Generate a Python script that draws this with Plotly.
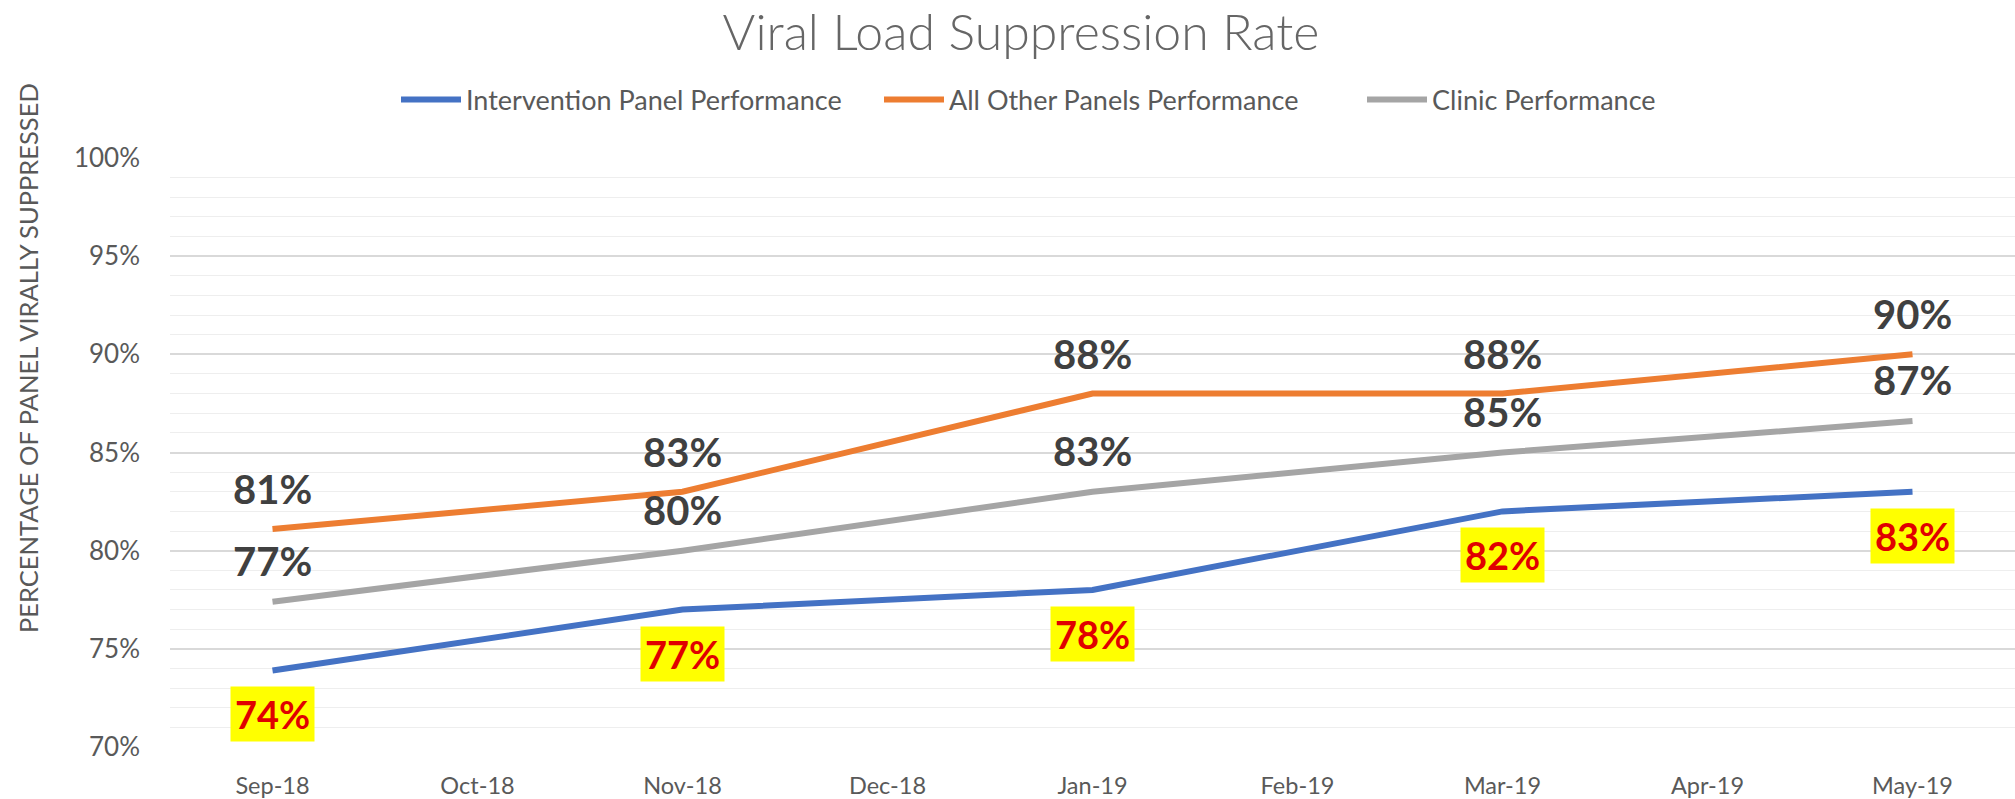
import plotly.graph_objects as go

months = ["Sep-18", "Oct-18", "Nov-18", "Dec-18", "Jan-19", "Feb-19", "Mar-19", "Apr-19", "May-19"]
intervention = [0.739, None, 0.770, None, 0.780, None, 0.820, None, 0.830]
other_panels = [0.811, None, 0.830, None, 0.880, None, 0.880, None, 0.900]
clinic = [0.774, None, 0.800, None, 0.830, None, 0.850, None, 0.866]

series_names = ["Intervention Panel Performance", "All Other Panels Performance", "Clinic Performance"]
colors = ["#4472C4", "#ED7D31", "#A5A5A5"]

W, H = 2015, 799
L, R, T, B = 170, 0, 158, 52
FONT = "Lato, 'Open Sans', sans-serif"

fig = go.Figure()
for name, vals, col in zip(series_names, [intervention, other_panels, clinic], colors):
    fig.add_trace(go.Scatter(
        x=months, y=vals, name=name, mode="lines", connectgaps=True,
        line=dict(color=col, width=6), hoverinfo="skip",
    ))

annotations = []
for vals, shift, kind in [(other_panels, 40, "dark"), (clinic, 41, "dark"), (intervention, -44, "red")]:
    for m, v in zip(months, vals):
        if v is None:
            continue
        txt = f"{int(v * 100 + 0.5)}%"
        if kind == "dark":
            annotations.append(dict(
                x=m, y=v, xref="x", yref="y", text=f"<b>{txt}</b>", showarrow=False,
                yshift=shift, font=dict(family=FONT, size=40, color="#404040"),
            ))
        else:
            annotations.append(dict(
                x=m, y=v, xref="x", yref="y", text=f"<b>{txt}</b>", showarrow=False,
                yshift=shift, font=dict(family=FONT, size=38, color="#E00000"),
                bgcolor="#FFFF00", borderpad=4,
            ))

pw = W - L - R
ph = H - T - B
annotations.append(dict(
    x=(28 - L) / pw, y=(H - B - 358) / ph, xref="paper", yref="paper",
    text="PERCENTAGE OF PANEL VIRALLY SUPPRESSED", textangle=-90, showarrow=False,
    font=dict(family=FONT, size=25.5, color="#595959"), xanchor="center", yanchor="middle",
))

fig.update_layout(
    width=W, height=H,
    margin=dict(l=L, r=R, t=T, b=B, autoexpand=False),
    paper_bgcolor="white", plot_bgcolor="white",
    title=dict(text="Viral Load Suppression Rate", xref="container", x=1021 / W,
               y=1 - 32 / H, xanchor="center", yanchor="middle",
               font=dict(family=FONT, size=50, color="#666666", weight=300)),
    legend=dict(orientation="h", xref="container", yref="container",
                x=396 / W, y=1 - 100 / H, xanchor="left", yanchor="middle",
                font=dict(family=FONT, size=27, color="#595959"),
                itemwidth=60, entrywidth=408, entrywidthmode="pixels",
                bgcolor="rgba(0,0,0,0)", tracegroupgap=0),
    showlegend=True,
    annotations=annotations,
    xaxis=dict(type="category", categoryorder="array", categoryarray=months,
               range=[-0.5, 8.5], showgrid=False, zeroline=False, showline=False,
               ticks="", ticklabelstandoff=22, automargin=False,
               tickfont=dict(family=FONT, size=23.5, color="#595959")),
    yaxis=dict(range=[0.70, 1.00], tickvals=[0.70, 0.75, 0.80, 0.85, 0.90, 0.95, 1.00],
               tickformat=".0%", showgrid=True, gridcolor="#D9D9D9", gridwidth=1.5,
               zeroline=False, showline=False, ticks="", ticklabelstandoff=29, automargin=False,
               tickfont=dict(family=FONT, size=26, color="#595959"),
               minor=dict(dtick=0.01, tick0=0.70, showgrid=True, gridcolor="#EEEEEE", gridwidth=1)),
)

fig.write_html("out.html", config={"displayModeBar": False},
               post_script="document.body.style.margin='0';document.body.style.overflow='hidden';")
